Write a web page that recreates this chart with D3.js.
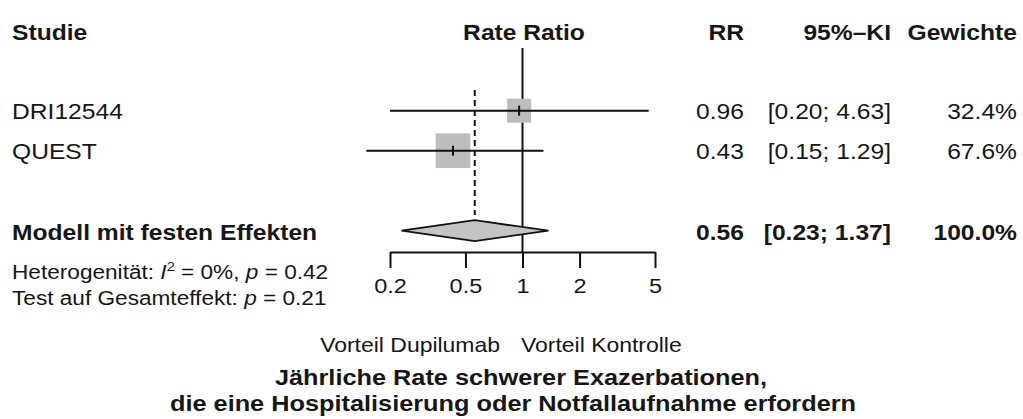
<!DOCTYPE html>
<html>
<head>
<meta charset="utf-8">
<script src="https://cdn.jsdelivr.net/npm/d3@7"></script>
<style>
body { margin: 0; background: #fff; }
text { font-family: "Liberation Sans", Arial, sans-serif; fill: #161616; }
</style>
</head>
<body>
<script>
var w = 1023;
var h = 419;
var sx = 1.12; // the picture is a bit wider than the font

// data
var studies = ["DRI12544", "QUEST"];
var rr = [0.96, 0.43];
var lower = [0.20, 0.15];
var upper = [4.63, 1.29];
var weights = [32.4, 67.6];
var pooled = {est: 0.56, lo: 0.23, hi: 1.37, w: 100.0};
var tickValues = [0.2, 0.5, 1, 2, 5];

var xScale = d3.scaleLog()
    .domain([0.2, 5])
    .range([390, 655]);

// row centres
var yRow = d3.scaleLinear()
    .domain([0, 1])
    .range([30.7, 70.7]);

var sizeScale = d3.scaleSqrt()
    .domain([0, 100])
    .range([0, 42.2]);

var svg = d3.select("body")
    .append("svg")
    .attr("width", w)
    .attr("height", h);

function label(x, y, str, opts) {
    opts = opts || {};
    var t = svg.append("text")
        .attr("transform", "translate(" + x + "," + y + ") scale(" + sx + ",1)")
        .attr("text-anchor", opts.anchor || "start")
        .attr("font-size", (opts.size || 22) + "px")
        .attr("font-weight", opts.bold ? "bold" : "normal")
        .text(str);
    return t;
}

// header
label(12, 40, "Studie", {bold: true});
label(524, 40, "Rate Ratio", {bold: true, anchor: "middle"});
label(744, 40, "RR", {bold: true, anchor: "end"});
label(891, 40, "95%\u2013KI", {bold: true, anchor: "end"});
label(1017, 40, "Gewichte", {bold: true, anchor: "end"});

// reference line at 1 and dashed line at pooled estimate
svg.append("line")
    .attr("x1", xScale(1)).attr("x2", xScale(1))
    .attr("y1", 48).attr("y2", 252)
    .attr("stroke", "#111").attr("stroke-width", 2);

svg.append("line")
    .attr("x1", xScale(pooled.est)).attr("x2", xScale(pooled.est))
    .attr("y1", 90).attr("y2", 215)
    .attr("stroke", "#111").attr("stroke-width", 2)
    .attr("stroke-dasharray", "6,4");

// study rows
var rows = svg.selectAll("g.row")
    .data(studies)
    .enter()
    .append("g")
    .attr("class", "row");

rows.append("rect")
    .attr("x", function(d, i){ return xScale(rr[i]) - sizeScale(weights[i]) / 2; })
    .attr("y", function(d, i){ return yRow(i + 2) - sizeScale(weights[i]) / 2; })
    .attr("width", function(d, i){ return sizeScale(weights[i]); })
    .attr("height", function(d, i){ return sizeScale(weights[i]); })
    .attr("fill", "#bdbdbd");

rows.append("line")
    .attr("x1", function(d, i){ return xScale(lower[i]); })
    .attr("x2", function(d, i){ return xScale(upper[i]); })
    .attr("y1", function(d, i){ return yRow(i + 2); })
    .attr("y2", function(d, i){ return yRow(i + 2); })
    .attr("stroke", "#111").attr("stroke-width", 2);

rows.append("line")
    .attr("x1", function(d, i){ return xScale(rr[i]); })
    .attr("x2", function(d, i){ return xScale(rr[i]); })
    .attr("y1", function(d, i){ return yRow(i + 2) - 5; })
    .attr("y2", function(d, i){ return yRow(i + 2) + 5; })
    .attr("stroke", "#111").attr("stroke-width", 2);

studies.forEach(function(s, i){
    var yb = yRow(i + 2) + 8;
    label(12, yb, s);
    label(744, yb, rr[i].toFixed(2), {anchor: "end"});
    label(891, yb, "[" + lower[i].toFixed(2) + "; " + upper[i].toFixed(2) + "]", {anchor: "end"});
    label(1017, yb, weights[i].toFixed(1) + "%", {anchor: "end"});
});

// pooled diamond
var yp = yRow(5);
svg.append("polygon")
    .attr("points", [
        [xScale(pooled.lo), yp],
        [xScale(pooled.est), yp - 10.5],
        [xScale(pooled.hi), yp],
        [xScale(pooled.est), yp + 10.5]
    ].map(function(p){ return p.join(","); }).join(" "))
    .attr("fill", "#c4c4c4")
    .attr("stroke", "#111")
    .attr("stroke-width", 1.8);

label(12, yp + 9, "Modell mit festen Effekten", {bold: true});
label(744, yp + 9, pooled.est.toFixed(2), {bold: true, anchor: "end"});
label(891, yp + 9, "[" + pooled.lo.toFixed(2) + "; " + pooled.hi.toFixed(2) + "]", {bold: true, anchor: "end"});
label(1017, yp + 9, pooled.w.toFixed(1) + "%", {bold: true, anchor: "end"});

// heterogeneity and test lines
var het = label(12, 279, "", {size: 20.2});
het.append("tspan").text("Heterogenit\u00e4t: ");
het.append("tspan").attr("font-style", "italic").text("I");
het.append("tspan").attr("font-size", "13px").attr("dy", -8).text("2");
het.append("tspan").attr("dy", 8).text(" = 0%, ");
het.append("tspan").attr("font-style", "italic").text("p");
het.append("tspan").text(" = 0.42");

var tst = label(12, 305, "", {size: 20.2});
tst.append("tspan").text("Test auf Gesamteffekt: ");
tst.append("tspan").attr("font-style", "italic").text("p");
tst.append("tspan").text(" = 0.21");

// x axis
var xAxis = d3.axisBottom(xScale)
    .tickValues(tickValues)
    .tickFormat(d3.format("~g"))
    .tickSize(16)
    .tickSizeOuter(0)
    .tickPadding(10);

var ax = svg.append("g")
    .attr("transform", "translate(0,252)")
    .call(xAxis);
ax.select(".domain").attr("stroke", "#111").attr("stroke-width", 2);
ax.selectAll(".tick line").attr("stroke", "#111").attr("stroke-width", 2);
ax.selectAll(".tick text")
    .attr("font-size", "21px")
    .attr("font-family", "Liberation Sans, Arial, sans-serif")
    .attr("fill", "#161616")
    .attr("transform", "scale(" + sx + ",1)");

// favours labels and title
label(500, 352, "Vorteil Dupilumab", {size: 20.5, anchor: "end"});
label(521, 352, "Vorteil Kontrolle", {size: 20.5});
label(521, 385, "J\u00e4hrliche Rate schwerer Exazerbationen,", {bold: true, size: 22.6, anchor: "middle"});
label(513, 411, "die eine Hospitalisierung oder Notfallaufnahme erfordern", {bold: true, size: 22.6, anchor: "middle"});
</script>
</body>
</html>
